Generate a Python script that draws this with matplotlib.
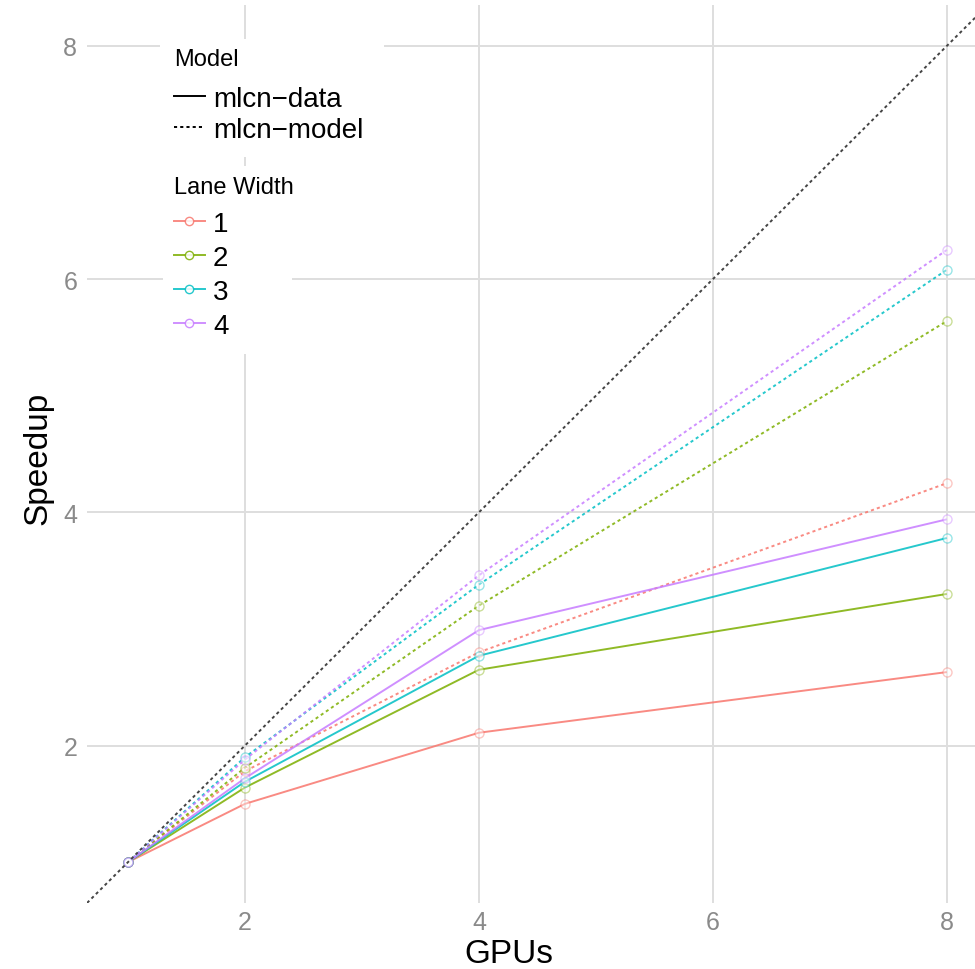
import matplotlib
matplotlib.use("Agg")
import matplotlib.pyplot as plt
from matplotlib.lines import Line2D
from matplotlib.patches import Rectangle

plt.rcParams['font.family'] = ['Liberation Sans Narrow', 'Liberation Sans', 'DejaVu Sans']

# ---- data ----
gpus = [1, 2, 4, 8]
lane_widths = ["1", "2", "3", "4"]
speedup_data = {
    "1": [1.0, 1.50, 2.11, 2.63],
    "2": [1.0, 1.64, 2.65, 3.30],
    "3": [1.0, 1.69, 2.77, 3.78],
    "4": [1.0, 1.72, 2.99, 3.94],
}
speedup_model = {
    "1": [1.0, 1.78, 2.80, 4.25],
    "2": [1.0, 1.81, 3.20, 5.64],
    "3": [1.0, 1.90, 3.38, 6.08],
    "4": [1.0, 1.88, 3.46, 6.25],
}
ideal = [0.5, 9.0]
model_labels = ["mlcn\u2212data", "mlcn\u2212model"]
xticks = [2, 4, 6, 8]
yticks = [2, 4, 6, 8]

colors = {"1": "#F8766D", "2": "#7CAE00", "3": "#00BFC4", "4": "#C77CFF"}

W, H = 975, 970
fig = plt.figure(figsize=(W / 100, H / 100), dpi=100)
ax = fig.add_axes([87 / W, 66 / H, 888 / W, 898 / H])
ax.set_xlim(0.65, 8.24)
ax.set_ylim(0.65, 8.35)

for s in ax.spines.values():
    s.set_visible(False)
ax.set_xticks(xticks)
ax.set_yticks(yticks)
ax.tick_params(length=0, labelsize=18, labelcolor="#8a8a8a")
ax.tick_params(axis="x", pad=5)
ax.tick_params(axis="y", pad=7)
ax.grid(True, color="#dedede", lw=1.4)
ax.set_axisbelow(True)

lw = 1.4
for k in lane_widths:
    ax.plot(gpus, speedup_data[k], color=colors[k], lw=lw, alpha=0.85, solid_capstyle="butt", zorder=3)
    ax.plot(gpus, speedup_model[k], color=colors[k], lw=lw, alpha=0.85, dashes=(1.6, 1.6), zorder=3)
    for series in (speedup_data[k], speedup_model[k]):
        ax.plot(gpus, series, ls="none", marker="o", ms=6.5, mfc="white",
                mec=colors[k], mew=1.0, alpha=0.4, zorder=4)

ax.plot(ideal, ideal, color="#444444", lw=1.4, dashes=(1.6, 1.6), zorder=5)

ax.set_xlabel("GPUs", fontsize=24)
ax.xaxis.label.set_va("center")
ax.xaxis.set_label_coords((509 - 87) / 888, (904 - 955) / 898)
ax.set_ylabel("Speedup", fontsize=24)
ax.yaxis.label.set_va("center")
ax.yaxis.set_label_coords((38 - 87) / 888, (904 - 458) / 898)

# legend backgrounds (above grid, below legends)
def px_rect(x0, y0, x1, y1):
    return Rectangle((x0 / W, 1 - y1 / H), (x1 - x0) / W, (y1 - y0) / H,
                     transform=fig.transFigure, facecolor="white", edgecolor="none",
                     zorder=1, clip_on=False)

ax.add_patch(px_rect(160, 40, 384, 158))
ax.add_patch(px_rect(163, 167, 292, 355))

fs = 20
tfs = 17
fig.text(174 / W, 1 - 60 / H, "Model", fontsize=tfs, va="center", ha="left", zorder=10)
fig.text(174 / W, 1 - 188 / H, "Lane Width", fontsize=tfs, va="center", ha="left", zorder=10)

h1 = [Line2D([], [], color="black", lw=1.4),
      Line2D([], [], color="black", lw=1.4, dashes=(1.6, 1.6))]
leg1 = ax.legend(h1, model_labels, loc="upper left",
                 bbox_to_anchor=(174 / W, 1 - 87 / H), bbox_transform=fig.transFigure,
                 frameon=False, fontsize=fs,
                 handlelength=1.1, handletextpad=0.3, borderpad=0, borderaxespad=0,
                 labelspacing=0.17)
leg1.set_zorder(10)
ax.add_artist(leg1)

h2 = [Line2D([], [], color=colors[k], lw=1.4, alpha=0.85, marker="o", ms=6,
             mfc="white", mec=colors[k], mew=1.0) for k in lane_widths]
leg2 = ax.legend(h2, lane_widths, loc="upper left",
                 bbox_to_anchor=(174 / W, 1 - 212 / H), bbox_transform=fig.transFigure,
                 frameon=False, fontsize=fs,
                 handlelength=1.1, handletextpad=0.3, borderpad=0, borderaxespad=0,
                 labelspacing=0.29)
leg2.set_zorder(10)

fig.savefig("out.png", dpi=100)
